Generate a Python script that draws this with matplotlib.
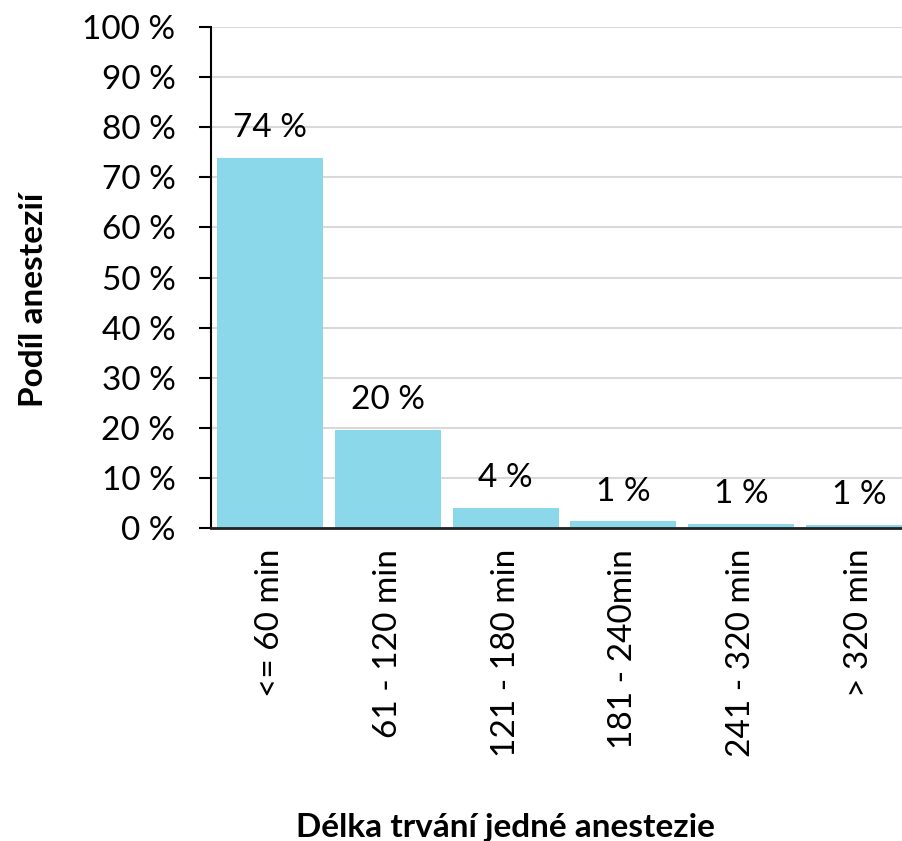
import matplotlib
matplotlib.use("Agg")
import matplotlib.pyplot as plt
from matplotlib.ticker import FuncFormatter

plt.rcParams['font.family'] = ['Lato', 'DejaVu Sans']

# Data
categories = ['<= 60 min', '61 - 120 min', '121 - 180 min', '181 - 240min', '241 - 320 min', '> 320 min']
shares = [73.9, 19.6, 4.0, 1.3, 0.8, 0.6]

bar_color = '#8CD8EB'

fig = plt.figure(figsize=(9.02, 8.41), dpi=100)
ax = fig.add_axes([211 / 902, 1 - 528 / 841, 707 / 902, 501 / 841])

x = range(len(categories))
bars = ax.bar(x, shares, width=0.9, color=bar_color, zorder=2)

for bar, val in zip(bars, shares):
    ax.annotate(f'{round(val):.0f} %', (bar.get_x() + bar.get_width() / 2, bar.get_height()),
                xytext=(0, 15), textcoords='offset points',
                ha='center', va='baseline', fontsize=24)

ax.set_xlim(-0.5, len(categories) - 0.5)
ax.set_ylim(0, 100)
ax.set_yticks(range(0, 101, 10))
ax.yaxis.set_major_formatter(FuncFormatter(lambda v, p: f'{v:.0f} %'))
ax.set_xticks(list(x))
ax.set_xticklabels(categories, rotation=90)
ax.tick_params(axis='y', labelsize=24, length=8.6, width=1.5, pad=17)
ax.tick_params(axis='x', labelsize=24, length=0, pad=15)

ax.grid(True, axis='y', color='#d9d9d9', linewidth=1.5, zorder=0)
ax.set_axisbelow(True)
for s in ['top', 'right']:
    ax.spines[s].set_visible(False)
ax.spines['left'].set_linewidth(1.5)
ax.spines['bottom'].set_linewidth(2)
ax.spines['bottom'].set_color('#222222')

fig.text(34 / 902, 1 - 300 / 841, 'Podíl anestezií', rotation=90, ha='center', va='center',
         fontsize=24, fontweight='bold')
fig.text(505 / 902, 1 - 828 / 841, 'Délka trvání jedné anestezie', ha='center', va='center',
         fontsize=24, fontweight='bold')

fig.savefig('out.png', dpi=100, facecolor='white')
